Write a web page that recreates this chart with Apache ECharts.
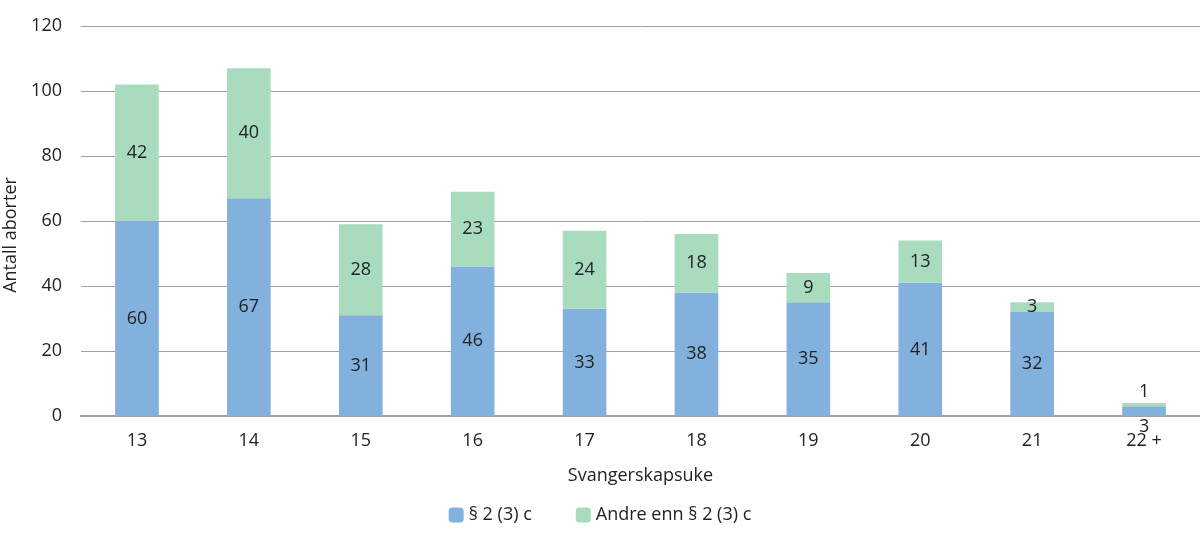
<!DOCTYPE html>
<html>
<head>
<meta charset="utf-8">
<script src="https://cdn.jsdelivr.net/npm/echarts@6/dist/echarts.min.js"></script>
<style>
  html, body { margin: 0; padding: 0; background: #fff; }
  #chart { width: 1200px; height: 543px; }
</style>
</head>
<body>
<div id="chart"></div>
<script>
// svangerskapsuke
const weeks = ['13', '14', '15', '16', '17', '18', '19', '20', '21', '22 +'];
// § 2 (3) c
const paragraf = [60, 67, 31, 46, 33, 38, 35, 41, 32, 3];
// andre enn § 2 (3) c
const andre = [42, 40, 28, 23, 24, 18, 9, 13, 3, 1];
const yTicks = [0, 20, 40, 60, 80, 100, 120];

const FONT = 'Open Sans';

const chart = echarts.init(document.getElementById('chart'));

// siste søyle er så lav at etikettene må stå utenfor
const lastIdx = weeks.length - 1;
const withLabelPos = (arr, pos) => arr.map((v, i) =>
  i === lastIdx ? { value: v, label: { position: pos, distance: 2 } } : v);

const option = {
  animation: false,
  textStyle: { fontFamily: FONT },
  grid: { left: 81, right: 0, top: 26, bottom: 127, outerBoundsMode: 'none', containLabel: false },
  legend: {
    bottom: 14,
    left: 'center',
    itemWidth: 15,
    itemHeight: 15,
    itemGap: 44,
    textStyle: { fontFamily: FONT, fontSize: 18, color: '#222' },
    data: ['§ 2 (3) c', 'Andre enn § 2 (3) c']
  },
  xAxis: {
    type: 'category',
    data: weeks,
    name: 'Svangerskapsuke',
    nameLocation: 'middle',
    nameGap: 51,
    nameTextStyle: { fontSize: 18, color: '#222' },
    axisTick: { show: false },
    axisLine: { lineStyle: { color: '#a0a0a0', width: 2 } },
    axisLabel: { fontSize: 18, color: '#222', margin: 16 }
  },
  yAxis: {
    type: 'value',
    min: yTicks[0],
    max: yTicks[yTicks.length - 1],
    interval: 20,
    name: 'Antall aborter',
    nameLocation: 'middle',
    nameGap: 60,
    nameTextStyle: { fontSize: 18, color: '#222', padding: [0, 28, 0, 0] },
    axisLine: { show: false },
    axisTick: { show: false },
    axisLabel: { fontSize: 18, color: '#222', margin: 19 },
    splitLine: { lineStyle: { color: '#a0a0a0', width: 1 } }
  },
  series: [
    {
      name: '§ 2 (3) c',
      type: 'bar',
      stack: 'total',
      barWidth: '39%',
      itemStyle: { color: '#82b1de' },
      label: { show: true, position: 'inside', fontSize: 18, color: '#222' },
      data: withLabelPos(paragraf, 'bottom')
    },
    {
      name: 'Andre enn § 2 (3) c',
      type: 'bar',
      stack: 'total',
      barWidth: '39%',
      itemStyle: { color: '#a9dbbf' },
      label: { show: true, position: 'inside', fontSize: 18, color: '#222' },
      data: withLabelPos(andre, 'top')
    }
  ]
};

chart.setOption(option);
</script>
</body>
</html>
